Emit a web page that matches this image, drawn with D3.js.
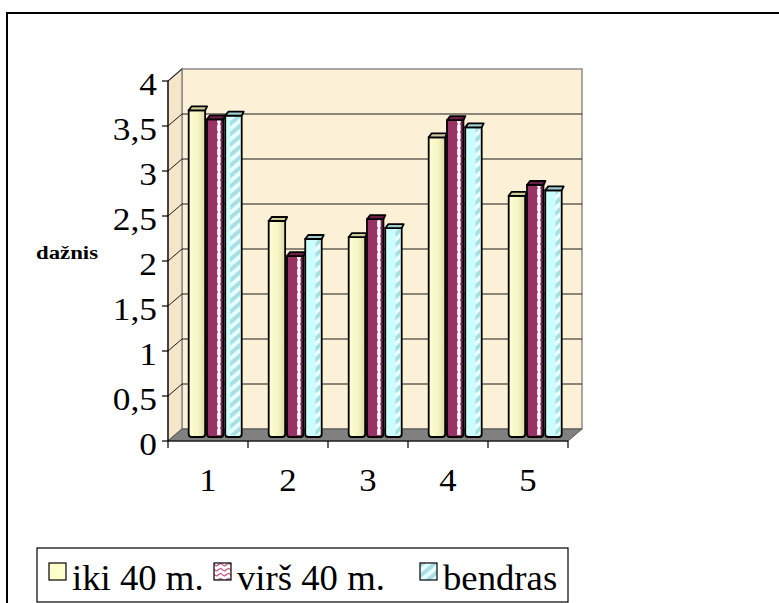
<!DOCTYPE html>
<html>
<head>
<meta charset="utf-8">
<script src="https://cdn.jsdelivr.net/npm/d3@7"></script>
<style>
  body { margin: 0; background: #fff; }
  text { font-family: "Liberation Serif", "Times New Roman", Times, serif; fill: #000; }
</style>
</head>
<body>
<div class="canvas"></div>
<script>
const categories = ["1", "2", "3", "4", "5"];
const seriesNames = ["iki 40 m.", "virš 40 m.", "bendras"];
const ikiValues = [3.63, 2.4, 2.22, 3.33, 2.68];
const virsValues = [3.53, 2.01, 2.42, 3.52, 2.8];
const bendrasValues = [3.57, 2.2, 2.32, 3.44, 2.74];
const yTicks = [0, 0.5, 1, 1.5, 2, 2.5, 3, 3.5, 4];

const WIDTH = 779,
  HEIGHT = 603,
  PLOT = { left: 168, right: 568, top: 81, bottom: 441 },
  DEPTH = { dx: 14, dy: 12 },
  BAR = { dx: 4.7, dy: 4, cap: 4 },
  WALL = "#fcf0d7",
  SIDE = "#f5e6ca";

const COLORS = {
  "iki 40 m.": { base: "#ffffcc", shade: "#e9e6b8", cap: "#cfcc9e" },
  "virš 40 m.": { base: "#993366", shade: "#7d2452", cap: "#6b1e45" },
  bendras: { base: "#ccffff", shade: "#b4e8ea", cap: "#9fcfd2" },
};

const values = {
  "iki 40 m.": ikiValues,
  "virš 40 m.": virsValues,
  bendras: bendrasValues,
};

const rows = categories.map((cat, i) => ({
  cat,
  bars: seriesNames.map((name) => ({ name, value: values[name][i] })),
}));

const locale = d3.formatLocale({
  decimal: ",",
  thousands: " ",
  grouping: [3],
  currency: ["", ""],
});
const fmt = locale.format("~g");

const svg = d3
  .select(".canvas")
  .append("svg")
  .attr("width", WIDTH)
  .attr("height", HEIGHT);

const y = d3.scaleLinear().domain([0, 4]).range([PLOT.bottom, PLOT.top]);
const x = d3.scaleBand().domain(categories).range([PLOT.left, PLOT.right]);
const xInner = d3
  .scaleBand()
  .domain(seriesNames)
  .range([16, 69])
  .paddingInner(0.1);

// patterns
const defs = svg.append("defs");

const dots = defs
  .append("pattern")
  .attr("id", "dots")
  .attr("patternUnits", "userSpaceOnUse")
  .attr("width", 4)
  .attr("height", 8);
dots.append("rect").attr("width", 4).attr("height", 8).attr("fill", "#fff");
dots.append("circle").attr("cx", 2).attr("cy", 4).attr("r", 1).attr("fill", "#b0487a");

const stripes = defs
  .append("pattern")
  .attr("id", "stripes")
  .attr("patternUnits", "userSpaceOnUse")
  .attr("width", 8)
  .attr("height", 8)
  .attr("patternTransform", "rotate(-40)");
stripes.append("rect").attr("width", 8).attr("height", 8).attr("fill", "#e8ffff");
stripes.append("rect").attr("width", 8).attr("height", 4).attr("fill", "#a8dfe2");

const waves = defs
  .append("pattern")
  .attr("id", "waves")
  .attr("patternUnits", "userSpaceOnUse")
  .attr("width", 8)
  .attr("height", 5);
waves.append("rect").attr("width", 8).attr("height", 5).attr("fill", "#fff");
waves
  .append("path")
  .attr("d", "M0,1 Q2,4 4,2 T8,1")
  .attr("fill", "none")
  .attr("stroke", "#c0507f")
  .attr("stroke-width", 1.2);

const yellowGrad = defs.append("linearGradient").attr("id", "yellowGrad");
yellowGrad.append("stop").attr("offset", "0%").attr("stop-color", "#ffffd0");
yellowGrad.append("stop").attr("offset", "55%").attr("stop-color", "#f7f5c6");
yellowGrad.append("stop").attr("offset", "100%").attr("stop-color", "#dedaa8");

// outer frame
svg
  .append("rect")
  .attr("x", 7)
  .attr("y", 13)
  .attr("width", 820)
  .attr("height", 640)
  .attr("fill", "#fff")
  .attr("stroke", "#000")
  .attr("stroke-width", 2);

// walls
const bx = PLOT.left + DEPTH.dx;
const bRight = PLOT.right + DEPTH.dx;
const yb = (v) => y(v) - DEPTH.dy;

svg
  .append("rect")
  .attr("x", bx)
  .attr("y", yb(4))
  .attr("width", bRight - bx)
  .attr("height", yb(0) - yb(4))
  .attr("fill", WALL)
  .attr("stroke", "#8c8c8c")
  .attr("stroke-width", 1.5);

svg
  .append("polygon")
  .attr(
    "points",
    [
      [PLOT.left, y(0)],
      [bx, yb(0)],
      [bx, yb(4)],
      [PLOT.left, y(4)],
    ].join(" ")
  )
  .attr("fill", SIDE)
  .attr("stroke", "#8c8c8c")
  .attr("stroke-width", 1.5);

// gridlines
const grid = svg.append("g").attr("stroke", "#1a1a1a").attr("stroke-width", 1);
grid
  .selectAll("line.h")
  .data(yTicks.filter((t) => t > 0 && t < 4))
  .enter()
  .append("line")
  .attr("x1", bx)
  .attr("x2", bRight)
  .attr("y1", yb)
  .attr("y2", yb);
grid
  .selectAll("line.d")
  .data(yTicks.filter((t) => t > 0))
  .enter()
  .append("line")
  .attr("x1", PLOT.left)
  .attr("x2", bx)
  .attr("y1", (t) => y(t))
  .attr("y2", yb);

// floor
svg
  .append("polygon")
  .attr(
    "points",
    [
      [PLOT.left, y(0)],
      [PLOT.right, y(0)],
      [bRight, yb(0)],
      [bx, yb(0)],
    ].join(" ")
  )
  .attr("fill", "#808080")
  .attr("stroke", "#555")
  .attr("stroke-width", 1);

// bars
const barBottom = y(0) - BAR.dy;

const group = svg
  .selectAll("g.cat")
  .data(rows)
  .enter()
  .append("g")
  .attr("class", "cat")
  .attr("transform", (d) => `translate(${x(d.cat) + BAR.dx}, 0)`);

const bar = group
  .selectAll("g.bar")
  .data((d) => d.bars)
  .enter()
  .append("g")
  .attr("class", "bar")
  .attr("transform", (d) => `translate(${xInner(d.name)}, 0)`);

const bw = xInner.bandwidth();
const barTop = (d) => y(d.value) - BAR.dy;

function bodyPath(d) {
  const t = barTop(d),
    b = barBottom,
    r = 3;
  return `M0,${t} L0,${b - r} Q0,${b} ${r},${b} L${bw - r},${b} Q${bw},${b} ${bw},${b - r} L${bw},${t} Z`;
}

bar
  .append("path")
  .attr("d", bodyPath)
  .attr("fill", (d) =>
    d.name === "iki 40 m." ? "url(#yellowGrad)" : COLORS[d.name].base
  );

// shaded right strip of each column
bar
  .filter((d) => d.name === "virš 40 m.")
  .append("rect")
  .attr("x", bw * 0.62)
  .attr("y", barTop)
  .attr("width", bw * 0.22)
  .attr("height", (d) => barBottom - barTop(d) - 2)
  .attr("fill", "url(#dots)");

bar
  .filter((d) => d.name === "virš 40 m.")
  .append("rect")
  .attr("x", bw * 0.84)
  .attr("y", barTop)
  .attr("width", bw * 0.16)
  .attr("height", (d) => barBottom - barTop(d) - 2)
  .attr("fill", COLORS["virš 40 m."].shade);

bar
  .filter((d) => d.name === "bendras")
  .append("rect")
  .attr("x", (d) => (d.value > 3.55 ? bw * 0.3 : bw * 0.62))
  .attr("y", barTop)
  .attr("width", (d) => (d.value > 3.55 ? bw * 0.6 : bw * 0.28))
  .attr("height", (d) => barBottom - barTop(d) - 2)
  .attr("fill", "url(#stripes)");

bar
  .append("path")
  .attr("d", bodyPath)
  .attr("fill", "none")
  .attr("stroke", "#000")
  .attr("stroke-width", 1.8);

bar
  .append("path")
  .attr("d", (d) => {
    const t = barTop(d);
    return `M0,${t} L${BAR.cap - 1},${t - BAR.cap} L${bw + 2},${t - BAR.cap} L${bw},${t} Z`;
  })
  .attr("fill", (d) => COLORS[d.name].cap)
  .attr("stroke", "#000")
  .attr("stroke-width", 1.8)
  .attr("stroke-linejoin", "round");

// axes
const axes = svg.append("g").attr("stroke", "#000").attr("stroke-width", 1.2);
axes
  .append("line")
  .attr("x1", PLOT.left)
  .attr("x2", PLOT.left)
  .attr("y1", y(4))
  .attr("y2", y(0));
axes
  .append("line")
  .attr("x1", PLOT.left)
  .attr("x2", PLOT.right)
  .attr("y1", y(0))
  .attr("y2", y(0));
axes
  .selectAll("line.yt")
  .data(yTicks)
  .enter()
  .append("line")
  .attr("x1", PLOT.left - 6)
  .attr("x2", PLOT.left)
  .attr("y1", (t) => y(t))
  .attr("y2", (t) => y(t));
axes
  .selectAll("line.xt")
  .data(d3.range(categories.length + 1))
  .enter()
  .append("line")
  .attr("x1", (i) => PLOT.left + i * x.step())
  .attr("x2", (i) => PLOT.left + i * x.step())
  .attr("y1", y(0))
  .attr("y2", y(0) + 7);

// tick labels
svg
  .selectAll("text.ylab")
  .data(yTicks)
  .enter()
  .append("text")
  .attr("class", "ylab")
  .attr("text-anchor", "end")
  .attr("font-size", 31)
  .attr("transform", (t) => `translate(157, ${y(t) + 14}) scale(1.14, 1)`)
  .text((t) => fmt(t));

svg
  .selectAll("text.xlab")
  .data(categories)
  .enter()
  .append("text")
  .attr("class", "xlab")
  .attr("text-anchor", "middle")
  .attr("font-size", 31)
  .attr("transform", (c) => `translate(${x(c) + x.bandwidth() / 2}, 491) scale(1.12, 1)`)
  .text((c) => c);

svg
  .append("text")
  .attr("font-size", 19)
  .attr("font-weight", "bold")
  .attr("transform", "translate(36, 259) scale(1.2, 1)")
  .text("dažnis");

// legend
const LEGEND = { x: 37, y: 548, width: 531, height: 54 };
const legendX = [49, 214, 420];
const legendFill = {
  "iki 40 m.": "#ffffcc",
  "virš 40 m.": "url(#waves)",
  bendras: "url(#stripes)",
};

const legend = svg.append("g");
legend
  .append("rect")
  .attr("x", LEGEND.x)
  .attr("y", LEGEND.y)
  .attr("width", LEGEND.width)
  .attr("height", LEGEND.height)
  .attr("fill", "#fff")
  .attr("stroke", "#000")
  .attr("stroke-width", 1.2);

const legendItem = legend
  .selectAll("g")
  .data(seriesNames)
  .enter()
  .append("g")
  .attr("transform", (d, i) => `translate(${legendX[i]}, 563)`);

legendItem
  .append("rect")
  .attr("width", 17)
  .attr("height", 17)
  .attr("fill", (d) => legendFill[d])
  .attr("stroke", "#000")
  .attr("stroke-width", 1.2);

legendItem
  .append("text")
  .attr("font-size", 36)
  .attr("transform", "translate(23, 27) scale(1.02, 1)")
  .text((d) => d);
</script>
</body>
</html>
